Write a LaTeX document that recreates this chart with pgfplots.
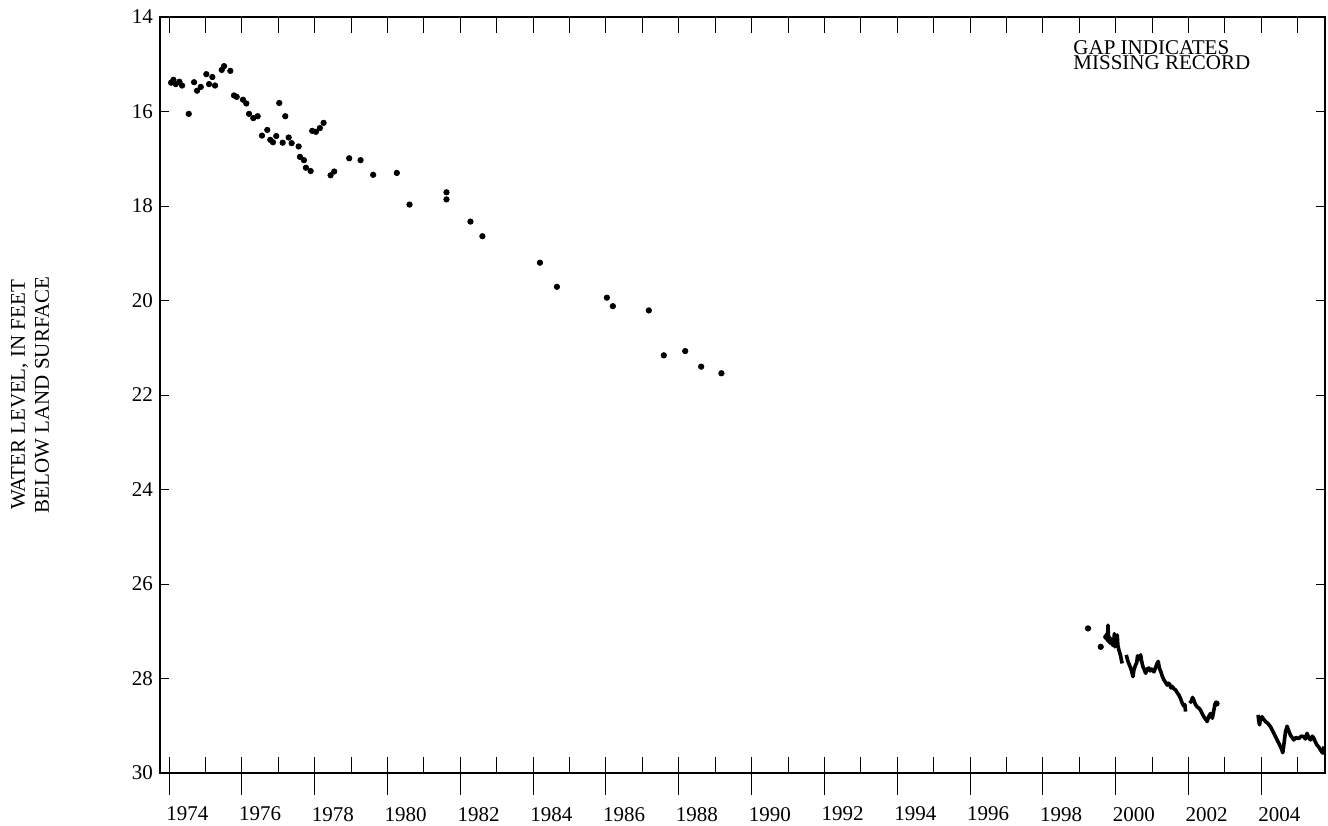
\documentclass[border=0pt]{standalone}
\usepackage{fontspec}
\setmainfont{Liberation Serif}
\usepackage{pgfplots}
\pgfplotsset{compat=1.18}
\pgfplotstableread{
x y
1974.055 15.39
1974.118 15.33
1974.184 15.42
1974.283 15.37
1974.357 15.45
1974.540 16.05
1974.686 15.38
1974.768 15.56
1974.870 15.48
1975.023 15.21
1975.097 15.42
1975.188 15.27
1975.262 15.45
1975.446 15.12
1975.509 15.04
1975.682 15.14
1975.783 15.66
1975.857 15.69
1976.030 15.75
1976.121 15.83
1976.195 16.05
1976.313 16.14
1976.433 16.10
1976.551 16.51
1976.697 16.39
1976.779 16.60
1976.853 16.65
1976.944 16.52
1977.026 15.82
1977.119 16.66
1977.191 16.10
1977.284 16.55
1977.366 16.67
1977.558 16.74
1977.594 16.96
1977.704 17.03
1977.759 17.19
1977.888 17.26
1977.931 16.41
1978.033 16.43
1978.143 16.35
1978.244 16.24
1978.436 17.35
1978.535 17.27
1978.947 16.99
1979.259 17.03
1979.605 17.34
1980.255 17.30
1980.604 17.97
1981.619 17.71
1981.619 17.86
1982.277 18.33
1982.606 18.64
1984.186 19.20
1984.653 19.71
1986.025 19.94
1986.189 20.12
1987.177 20.21
1987.589 21.16
1988.176 21.07
1988.615 21.40
1989.171 21.54
1999.240 26.94
1999.590 27.33
1999.742 27.12
2002.770 28.53
}\dots
\pgfplotstableread{
x y
1999.742 27.12
1999.760 27.05
1999.775 27.20
1999.789 26.87
1999.800 27.10
1999.816 27.12
1999.840 27.25
1999.860 27.15
1999.890 27.22
1999.920 27.30
1999.950 27.22
1999.965 27.05
1999.981 27.33
2000.010 27.25
2000.044 27.08
2000.060 27.30
2000.090 27.40
2000.130 27.50
2000.160 27.62
2000.181 27.68
}\segA
\pgfplotstableread{
x y
2000.291 27.50
2000.330 27.62
2000.370 27.70
2000.412 27.78
2000.440 27.85
2000.475 27.96
2000.500 27.82
2000.530 27.75
2000.549 27.71
2000.580 27.66
2000.600 27.52
2000.620 27.61
2000.650 27.55
2000.686 27.50
2000.710 27.62
2000.749 27.75
2000.780 27.80
2000.823 27.89
2000.860 27.80
2000.914 27.78
2000.950 27.84
2000.990 27.80
2001.051 27.86
2001.100 27.76
2001.140 27.68
2001.169 27.64
2001.200 27.78
2001.243 27.86
2001.280 27.95
2001.325 28.03
2001.370 28.08
2001.416 28.14
2001.450 28.10
2001.480 28.12
2001.520 28.20
2001.553 28.17
2001.600 28.22
2001.646 28.24
2001.690 28.30
2001.737 28.35
2001.780 28.42
2001.827 28.52
2001.870 28.58
2001.900 28.55
2001.920 28.70
}\segB
\pgfplotstableread{
x y
2002.030 28.52
2002.080 28.48
2002.110 28.40
2002.148 28.46
2002.190 28.55
2002.239 28.60
2002.290 28.63
2002.332 28.67
2002.380 28.75
2002.422 28.81
2002.470 28.86
2002.513 28.91
2002.560 28.80
2002.606 28.74
2002.655 28.84
2002.690 28.70
2002.724 28.56
2002.760 28.52
2002.787 28.49
}\segC
\pgfplotstableread{
x y
2003.912 28.77
2003.930 28.90
2003.951 28.98
2003.980 28.85
2004.022 28.81
2004.060 28.86
2004.115 28.91
2004.180 28.95
2004.252 29.02
2004.320 29.12
2004.389 29.23
2004.460 29.34
2004.527 29.44
2004.560 29.50
2004.590 29.57
2004.620 29.40
2004.664 29.13
2004.708 29.01
2004.750 29.10
2004.801 29.20
2004.850 29.25
2004.892 29.30
2004.950 29.25
2005.029 29.27
2005.100 29.22
2005.166 29.23
2005.210 29.28
2005.257 29.16
2005.300 29.25
2005.350 29.30
2005.400 29.22
2005.440 29.26
2005.490 29.35
2005.531 29.41
2005.580 29.45
2005.624 29.51
2005.660 29.55
2005.687 29.58
2005.705 29.50
2005.723 29.44
}\segD
\begin{document}
\begin{tikzpicture}
\useasboundingbox (-80bp,-26.5bp) rectangle (584bp,386.5bp);
\begin{axis}[
  at={(0,0)}, anchor=south west,
  scale only axis, width=582.5bp, height=378bp,
  xmin=1973.75, xmax=2005.75, ymin=14, ymax=30, y dir=reverse,
  axis line style={line width=1bp},
  every tick/.style={black, line width=0.5bp},
  tick align=inside,
  major tick length=8.2bp,
  xtick={1974,1975,...,2005},
  x tick label as interval,
  xticklabels={1974,,1976,,1978,,1980,,1982,,1984,,1986,,1988,,1990,,1992,,1994,,1996,,1998,,2000,,2002,,2004,},
  xtick pos=both,
  extra x ticks={1974,1976,...,2004},
  extra x tick labels={},
  extra x tick style={xtick pos=lower, tick align=outside, /pgfplots/major tick length=11bp},
  ytick={14,16,...,30},
  ytick pos=both,
  ytick style={/pgfplots/major tick length=4.5bp},
  /pgf/number format/assume math mode=true,
  tick label style={font=\fontsize{10.5bp}{12bp}\selectfont},
  xticklabel style={yshift=-13.5bp},
  ylabel={WATER LEVEL, IN FEET\\BELOW LAND SURFACE},
  ylabel style={at={(axis description cs:-0.1116,0.5)}, anchor=center, align=center, font=\fontsize{10.5bp}{12bp}\selectfont},
  clip=false,
]
\addplot[only marks, mark=*, mark size=1.35bp, black] table[x=x,y=y] {\dots};
\addplot[black, line width=1.8bp, line join=round] table[x=x,y=y] {\segA};
\addplot[black, line width=1.8bp, line join=round] table[x=x,y=y] {\segB};
\addplot[black, line width=1.8bp, line join=round] table[x=x,y=y] {\segC};
\addplot[black, line width=1.8bp, line join=round] table[x=x,y=y] {\segD};
\node[anchor=base west, inner sep=0pt, font=\fontsize{10.5bp}{12bp}\selectfont] at (axis cs:1998.83,14.80) {GAP INDICATES};
\node[anchor=base west, inner sep=0pt, font=\fontsize{10.5bp}{12bp}\selectfont] at (axis cs:1998.83,15.12) {MISSING RECORD};
\end{axis}
\end{tikzpicture}
\end{document}
